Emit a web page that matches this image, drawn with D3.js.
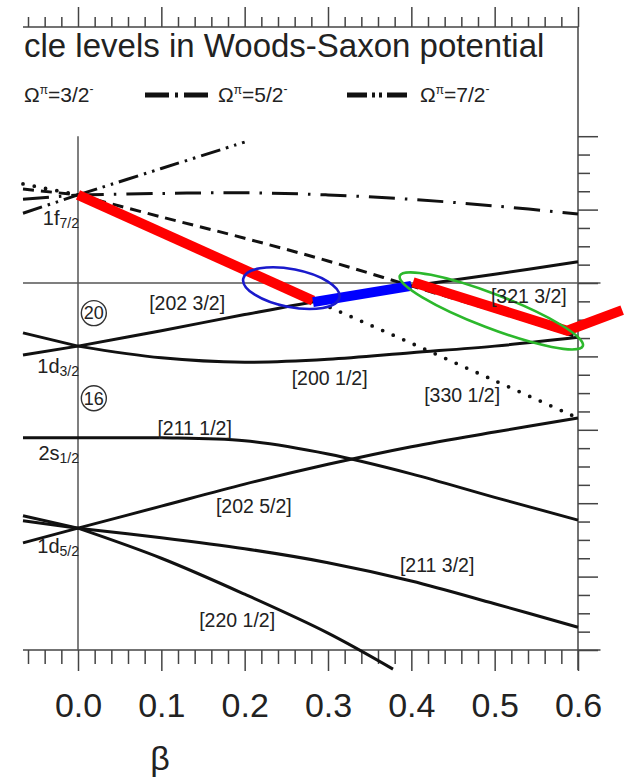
<!DOCTYPE html>
<html><head><meta charset="utf-8">
<script src="https://cdn.jsdelivr.net/npm/d3@7/dist/d3.min.js"></script>
<style>body{margin:0;background:#fff}text{font-family:"Liberation Sans",Arial,sans-serif;fill:#222}</style>
</head><body>
<svg id="c" width="629" height="777"></svg>
<script>
// ---------------- data ----------------
const betaGrid = [-0.066, 0, 0.1, 0.2, 0.3, 0.4, 0.5, 0.6];
const e202_32 = [-7.98, -7.86, -7.65, -7.43, -7.22, -7.04, -6.88, -6.71];
const e200_12 = [-7.68, -7.86, -8.02, -8.08, -8.04, -7.95, -7.86, -7.74];
const e330_12 = [-5.65, -5.80, -6.31, -6.81, -7.32, -7.82, -8.33, -8.84];
const e321_32 = [-5.72, -5.80, -6.10, -6.39, -6.70, -7.04, -7.38, -7.74];
const e312_52 = [-5.86, -5.80, -5.78, -5.77, -5.80, -5.86, -5.95, -6.06];
const beta303 = [-0.066, 0, 0.1, 0.2];
const e303_72 = [-6.05, -5.80, -5.44, -5.08];
const e211_12 = [-9.11, -9.11, -9.11, -9.15, -9.33, -9.60, -9.92, -10.23];
const e202_52 = [-10.54, -10.34, -10.04, -9.74, -9.47, -9.23, -9.03, -8.84];
const e211_32 = [-10.24, -10.34, -10.47, -10.62, -10.81, -11.06, -11.37, -11.69];
const beta220 = [-0.066, 0, 0.1, 0.2, 0.3, 0.378];
const e220_12 = [-10.17, -10.34, -10.75, -11.24, -11.77, -12.26];
// highlighted path of last occupied orbital
const redBeta1 = [0, 0.282];
const redE1 = [-5.80, -7.24];
const blueBeta = [0.282, 0.4];
const blueE = [-7.26, -7.04];
const redBeta2 = [0.402, 0.587, 0.653];
const redE2 = [-6.99, -7.65, -7.37];
// ellipse centres (beta, E)
const ellipseBeta = [0.256, 0.496];
const ellipseE = [-7.07, -7.38];
const fermiE = -7.0;
const xTickMajor = [0, 0.1, 0.2, 0.3, 0.4, 0.5, 0.6];
const sphLabels = [["1f","7/2"],["1d","3/2"],["2s","1/2"],["1d","5/2"]];
const sphE = [-6.21, -8.23, -9.41, -10.68];
const nilssonLabels = ["[202 3/2]","[200 1/2]","[330 1/2]","[211 1/2]","[202 5/2]","[211 3/2]","[220 1/2]","[321 3/2]"];
const nilssonBeta = [0.131, 0.302, 0.461, 0.140, 0.211, 0.431, 0.191, 0.541];
const nilssonE = [-7.37, -8.39, -8.62, -9.07, -10.13, -10.94, -11.69, -7.27];
const magicNumbers = ["20","16"];
const magicE = [-7.41, -8.57];
const legendOmega = ["3/2","5/2","7/2"];

// ---------------- drawing ----------------
const svg = d3.select("#c");
const x = d3.scaleLinear().domain([0, 0.6]).range([78, 578]);
const y = d3.scaleLinear().domain([-12, -5]).range([650, 136.2]);
const axisCol = "#444";

function drawLevel(bs, es, style) {
  const pts = bs.map((b, i) => [b, es[i]]);
  const i0 = bs.indexOf(0);
  const left = pts.slice(0, i0 + 1), right = pts.slice(i0);
  const lineL = d3.line().x(d => x(d[0])).y(d => y(d[1]));
  const lineR = d3.line().x(d => x(d[0])).y(d => y(d[1])).curve(d3.curveCatmullRom.alpha(0.5));
  [[left, lineL], [right, lineR]].forEach(([p, g]) => {
    svg.append("path").attr("d", g(p)).attr("fill", "none")
      .attr("stroke", "#111").attr("stroke-width", style.w || 3)
      .attr("stroke-dasharray", style.dash || null)
      .attr("stroke-linecap", style.cap || "butt");
  });
}

// frame lines
svg.append("line").attr("x1", x(-0.066)).attr("x2", x(0.6)).attr("y1", 27).attr("y2", 27)
  .attr("stroke", axisCol).attr("stroke-width", 1.5);
svg.append("line").attr("x1", x(-0.066)).attr("x2", x(0.627)).attr("y1", y(-12)).attr("y2", y(-12))
  .attr("stroke", axisCol).attr("stroke-width", 1.5);
svg.append("line").attr("x1", x(0.6)).attr("x2", x(0.6)).attr("y1", 27).attr("y2", y(-12) + 20)
  .attr("stroke", axisCol).attr("stroke-width", 1.5);
svg.append("line").attr("x1", x(0)).attr("x2", x(0)).attr("y1", y(-5)).attr("y2", y(-12))
  .attr("stroke", "#555").attr("stroke-width", 1.5);
svg.append("line").attr("x1", x(-0.066)).attr("x2", x(0.627)).attr("y1", y(fermiE)).attr("y2", y(fermiE))
  .attr("stroke", "#555").attr("stroke-width", 1.5);

// ticks
const minorX = d3.range(-0.06, 0.601, 0.02).filter(v => Math.abs(v * 10 - Math.round(v * 10)) > 1e-6);
function tickGroup(axisFn, scale, vals, size, transform) {
  const g = svg.append("g").attr("transform", transform)
    .call(axisFn(scale).tickValues(vals).tickSize(size).tickFormat(""));
  g.select(".domain").remove();
  g.selectAll("line").attr("stroke", axisCol).attr("stroke-width", 1.5);
  return g;
}
tickGroup(d3.axisTop, x, minorX, 10, "translate(0,27)");
tickGroup(d3.axisTop, x, xTickMajor, 20, "translate(0,27)");
tickGroup(d3.axisBottom, x, minorX, 14, `translate(0,${y(-12)})`);
const gb = svg.append("g").attr("transform", `translate(0,${y(-12)})`)
  .call(d3.axisBottom(x).tickValues(xTickMajor).tickSize(21).tickPadding(22).tickFormat(d3.format(".1f")));
gb.select(".domain").remove();
gb.selectAll("line").attr("stroke", axisCol).attr("stroke-width", 1.5);
gb.selectAll("text").style("font-size", "34px").attr("fill", "#222").style("font-family", '"Liberation Sans",Arial,sans-serif');
const minorY = d3.range(-12, -4.99, 0.25).filter(v => Math.abs(v - Math.round(v)) > 1e-6);
tickGroup(d3.axisRight, y, minorY, 12, `translate(${x(0.6)},0)`);
tickGroup(d3.axisRight, y, d3.range(-12, -4.99, 1), 20, `translate(${x(0.6)},0)`);

// levels
drawLevel(betaGrid, e312_52, {dash: "26,10,2.5,10"});
drawLevel(beta303, e303_72, {dash: "20,6,2.5,6,2.5,6"});
drawLevel(betaGrid, e321_32, {dash: "11,7"});
drawLevel(betaGrid, e330_12, {dash: "0,11.5", cap: "round", w: 3.8});
drawLevel(betaGrid, e202_32, {});
drawLevel(betaGrid, e200_12, {});
drawLevel(betaGrid, e211_12, {});
drawLevel(betaGrid, e202_52, {});
drawLevel(betaGrid, e211_32, {});
drawLevel(beta220, e220_12, {});

// highlighted path
const lin = d3.line().x(d => x(d[0])).y(d => y(d[1]));
svg.append("path").attr("d", lin(redBeta1.map((b, i) => [b, redE1[i]]))).attr("stroke", "#ff0000")
  .attr("stroke-width", 10).attr("fill", "none");
svg.append("path").attr("d", lin(blueBeta.map((b, i) => [b, blueE[i]]))).attr("stroke", "#0000ff")
  .attr("stroke-width", 10).attr("fill", "none");
svg.append("path").attr("d", lin(redBeta2.map((b, i) => [b, redE2[i]]))).attr("stroke", "#ff0000")
  .attr("stroke-width", 10).attr("fill", "none").attr("stroke-linejoin", "miter");

// ellipses
const ellStyle = [{rx: 49, ry: 19, rot: 11, col: "#1a1acc"}, {rx: 98, ry: 17, rot: 21, col: "#2cb82c"}];
ellipseBeta.forEach((b, i) => {
  const s = ellStyle[i];
  svg.append("ellipse").attr("cx", 0).attr("cy", 0).attr("rx", s.rx).attr("ry", s.ry)
    .attr("transform", `translate(${x(b)},${y(ellipseE[i])}) rotate(${s.rot})`)
    .attr("fill", "none").attr("stroke", s.col).attr("stroke-width", 2.6);
});

// spherical labels
sphLabels.forEach((l, i) => {
  const t = svg.append("text").attr("x", x(0) + 1).attr("y", y(sphE[i])).attr("text-anchor", "end")
    .style("font-size", "20px").attr("fill", "#333");
  t.append("tspan").text(l[0]);
  t.append("tspan").text(l[1]).style("font-size", "14px").attr("dy", 3);
});
// Nilsson labels
nilssonLabels.forEach((l, i) => {
  svg.append("text").attr("x", x(nilssonBeta[i])).attr("y", y(nilssonE[i])).attr("text-anchor", "middle")
    .style("font-size", "19.5px").attr("fill", "#333").text(l);
});
// magic numbers
magicNumbers.forEach((m, i) => {
  const cx = x(0.019), cy = y(magicE[i]);
  svg.append("circle").attr("cx", cx).attr("cy", cy).attr("r", 12.5).attr("fill", "none")
    .attr("stroke", "#333").attr("stroke-width", 1.4);
  svg.append("text").attr("x", cx).attr("y", cy + 6.3).attr("text-anchor", "middle")
    .style("font-size", "18px").attr("fill", "#333").text(m);
});

// title & legend
svg.append("text").attr("x", 24).attr("y", 57).style("font-size", "33px").attr("fill", "#333")
  .text("cle levels in Woods-Saxon potential");
const legX = [24, 218, 420];
const legDash = [null, "24,6,3,6", "20,5,3,4,3,5"];
legendOmega.forEach((o, i) => {
  const t = svg.append("text").attr("x", legX[i]).attr("y", 102).style("font-size", "21px").attr("fill", "#222");
  t.append("tspan").text("Ω");
  t.append("tspan").text("π").style("font-size", "12px").attr("dy", -8);
  t.append("tspan").text("=" + o).attr("dy", 8);
  t.append("tspan").text("-").style("font-size", "12px").attr("dy", -9);
  if (legDash[i]) {
    svg.append("line").attr("x1", legX[i] - 73).attr("x2", legX[i] - 8).attr("y1", 95).attr("y2", 95)
      .attr("stroke", "#111").attr("stroke-width", 5).attr("stroke-dasharray", legDash[i]);
  }
});

// axis title
svg.append("text").attr("x", 160).attr("y", 770).attr("text-anchor", "middle")
  .style("font-size", "34px").attr("fill", "#222").text("β");
</script>
</body></html>
